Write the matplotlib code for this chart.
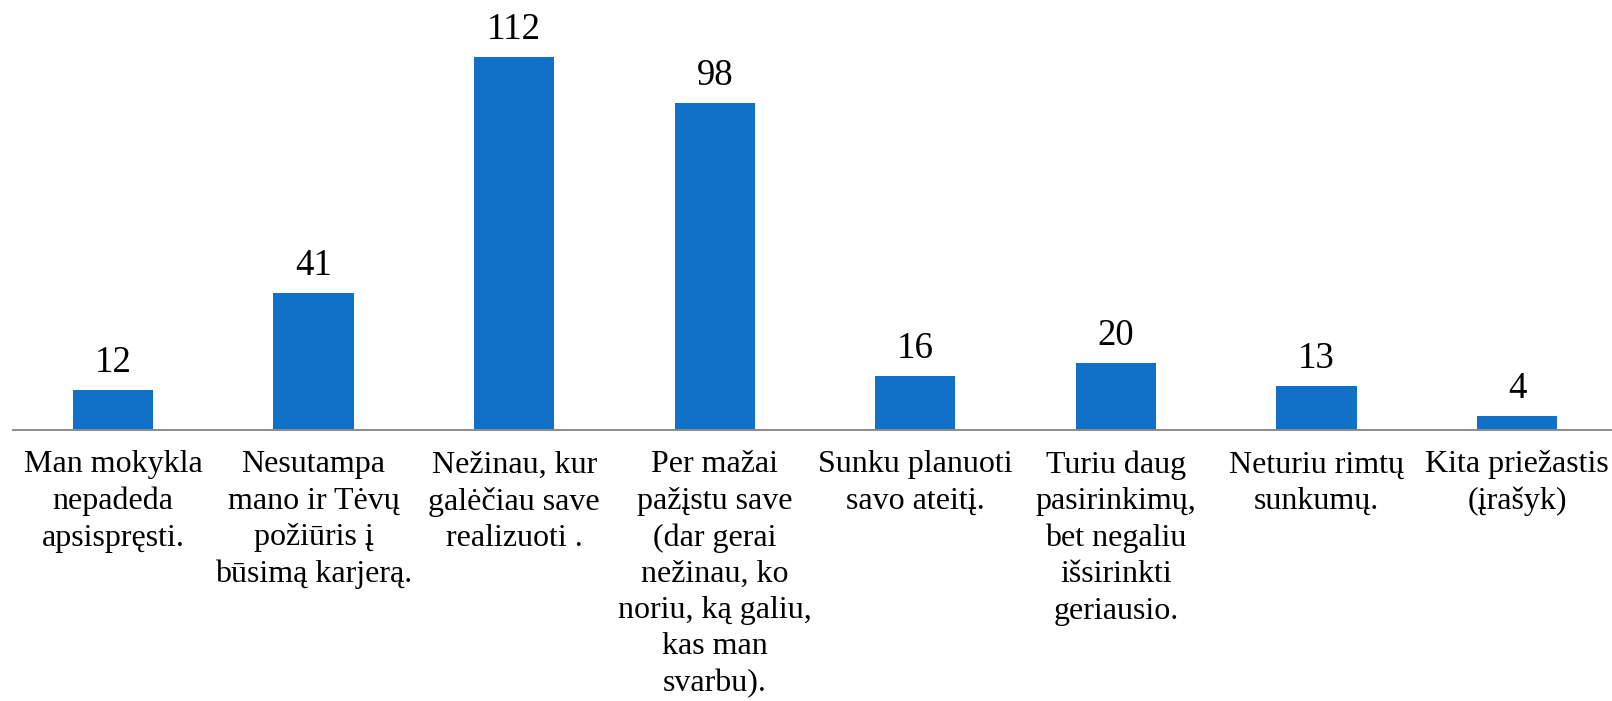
import matplotlib
matplotlib.use("Agg")
import matplotlib.pyplot as plt

categories = [
    "Man mokykla\nnepadeda\napsispręsti.",
    "Nesutampa\nmano ir Tėvų\npožiūris į\nbūsimą karjerą.",
    "Nežinau, kur\ngalėčiau save\nrealizuoti .",
    "Per mažai\npažįstu save\n(dar gerai\nnežinau, ko\nnoriu, ką galiu,\nkas man\nsvarbu).",
    "Sunku planuoti\nsavo ateitį.",
    "Turiu daug\npasirinkimų,\nbet negaliu\nišsirinkti\ngeriausio.",
    "Neturiu rimtų\nsunkumų.",
    "Kita priežastis\n(įrašyk)",
]
values = [12, 41, 112, 98, 16, 20, 13, 4]

plt.rcParams['font.family'] = ['Liberation Serif', 'DejaVu Serif']

W, H = 1612, 701
fig = plt.figure(figsize=(W / 100, H / 100), dpi=100)
left = 12.7 / W
width = (1617.3 - 12.7) / W
bottom = 1 - 429.5 / H
ax = fig.add_axes([left, bottom, width, 429.5 / H])

x = list(range(len(categories)))
bars = ax.bar(x, values, width=0.4, color='#1170C8', zorder=2)
ax.set_xlim(-0.5, len(categories) - 0.5)
ax.set_ylim(0, 129.1)

for xi, v in zip(x, values):
    ax.annotate(str(v), (xi, v), xytext=(0, 13), textcoords='offset points',
                ha='center', va='baseline', fontsize=26.5, color='black')

for s in ['left', 'right', 'top']:
    ax.spines[s].set_visible(False)
ax.spines['bottom'].set_color('#8c8c8c')
ax.spines['bottom'].set_linewidth(1.4)
ax.set_yticks([])
ax.set_xticks(x)
ax.set_xticklabels(categories, fontsize=23, linespacing=1.33)
ax.tick_params(axis='x', length=0, pad=15)

fig.savefig('out.png', dpi=100)
